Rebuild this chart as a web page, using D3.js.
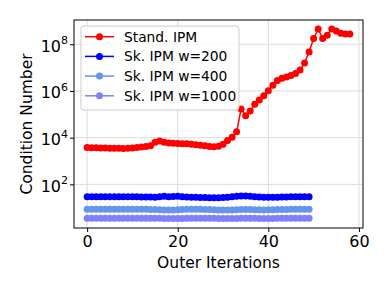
<!DOCTYPE html>
<html>
<head>
<meta charset="utf-8">
<script src="https://cdn.jsdelivr.net/npm/d3@7"></script>
<style>
  body { margin: 0; background: #fff; }
  text { font-family: "DejaVu Sans", sans-serif; fill: #000; }
</style>
</head>
<body>
<div id="chart"></div>
<script>
// log10 of the condition number
const standLog = [
  3.58, 3.57, 3.57, 3.56, 3.56, 3.55, 3.55, 3.55, 3.54, 3.55,
  3.56, 3.58, 3.60, 3.62, 3.65, 3.80, 3.86, 3.80, 3.77, 3.76,
  3.75, 3.74, 3.74, 3.72, 3.70, 3.68, 3.65, 3.62, 3.61, 3.63,
  3.72, 3.88, 4.02, 4.25, 5.23, 4.94, 5.14, 5.43, 5.61, 5.79,
  6.01, 6.25, 6.45, 6.54, 6.60, 6.66, 6.75, 6.90, 7.20, 7.67,
  8.25, 8.65, 8.25, 8.39, 8.65, 8.57, 8.47, 8.44, 8.44
];
const w200Log = [
  1.47, 1.47, 1.47, 1.47, 1.47, 1.47, 1.47, 1.47, 1.47, 1.47,
  1.47, 1.47, 1.46, 1.46, 1.46, 1.45, 1.47, 1.49, 1.47, 1.48,
  1.49, 1.47, 1.46, 1.45, 1.45, 1.44, 1.44, 1.43, 1.43, 1.43,
  1.44, 1.45, 1.47, 1.49, 1.50, 1.50, 1.49, 1.47, 1.46, 1.45,
  1.45, 1.45, 1.45, 1.46, 1.46, 1.47, 1.47, 1.47, 1.47, 1.47
];
const w400Log = [
  0.93, 0.93, 0.93, 0.93, 0.93, 0.93, 0.93, 0.93, 0.93, 0.93,
  0.93, 0.93, 0.93, 0.93, 0.92, 0.92, 0.91, 0.90, 0.90, 0.90,
  0.91, 0.92, 0.93, 0.93, 0.93, 0.93, 0.92, 0.92, 0.91, 0.90,
  0.90, 0.90, 0.90, 0.91, 0.92, 0.92, 0.92, 0.91, 0.91, 0.90,
  0.91, 0.91, 0.92, 0.92, 0.92, 0.93, 0.93, 0.93, 0.93, 0.93
];
const w1000Log = [
  0.55, 0.55, 0.55, 0.55, 0.55, 0.55, 0.55, 0.55, 0.55, 0.55,
  0.55, 0.55, 0.55, 0.55, 0.55, 0.55, 0.55, 0.54, 0.54, 0.54,
  0.54, 0.54, 0.55, 0.55, 0.55, 0.55, 0.55, 0.55, 0.55, 0.54,
  0.54, 0.54, 0.54, 0.54, 0.55, 0.55, 0.55, 0.55, 0.54, 0.54,
  0.54, 0.54, 0.55, 0.55, 0.55, 0.55, 0.55, 0.55, 0.55, 0.55
];

const seriesNames = ['Stand. IPM', 'Sk. IPM w=200', 'Sk. IPM w=400', 'Sk. IPM w=1000'];
const seriesColors = ['#ff0000', '#0000ff', '#6495ed', '#8080ff'];
const xTicks = [0, 20, 40, 60];
const yTickExps = [2, 4, 6, 8];

const series = [standLog, w200Log, w400Log, w1000Log].map((vals, k) => ({
  name: seriesNames[k],
  color: seriesColors[k],
  points: vals.map((v, i) => ({ x: i, y: Math.pow(10, v) }))
}));

const width = 388, height = 290;
const margin = { top: 20, right: 25, bottom: 62, left: 74 };
const markerR = 3.5;

const svg = d3.select('#chart').append('svg')
  .attr('width', width)
  .attr('height', height);

const x = d3.scaleLinear()
  .domain([-2.9, 60.9])
  .range([margin.left, width - margin.right]);

const y = d3.scaleLog()
  .domain([Math.pow(10, 0.13), Math.pow(10, 9.04)])
  .range([height - margin.bottom, margin.top]);

// grid
const grid = svg.append('g').attr('class', 'grid');
grid.selectAll('.gx').data(xTicks).enter().append('line')
  .attr('x1', d => x(d)).attr('x2', d => x(d))
  .attr('y1', margin.top).attr('y2', height - margin.bottom)
  .attr('stroke', '#dcdcdc').attr('stroke-width', 1);
grid.selectAll('.gy').data(yTickExps).enter().append('line')
  .attr('x1', margin.left).attr('x2', width - margin.right)
  .attr('y1', d => y(Math.pow(10, d))).attr('y2', d => y(Math.pow(10, d)))
  .attr('stroke', '#dcdcdc').attr('stroke-width', 1);

// axes
const xAxis = d3.axisBottom(x).tickValues(xTicks).tickSize(4).tickPadding(4);
const gx = svg.append('g')
  .attr('transform', `translate(0,${height - margin.bottom})`)
  .call(xAxis);
gx.select('.domain').remove();
gx.selectAll('text').style('font-size', '16px').style('font-family', 'DejaVu Sans');

const yAxis = d3.axisLeft(y)
  .tickValues(yTickExps.map(e => Math.pow(10, e)))
  .tickSize(4)
  .tickFormat('');
const gy = svg.append('g')
  .attr('transform', `translate(${margin.left},0)`)
  .call(yAxis);
gy.select('.domain').remove();

// y tick labels as 10^n
const yLabels = svg.append('g');
yTickExps.forEach(e => {
  const t = yLabels.append('text')
    .attr('x', 68)
    .attr('y', y(Math.pow(10, e)) + 7.5)
    .attr('text-anchor', 'end')
    .style('font-size', '16px');
  t.append('tspan').text('10');
  t.append('tspan')
    .attr('dy', -7.5)
    .style('font-size', '11px')
    .text(e);
});

// frame
svg.append('rect')
  .attr('x', margin.left).attr('y', margin.top)
  .attr('width', width - margin.left - margin.right)
  .attr('height', height - margin.top - margin.bottom)
  .attr('fill', 'none').attr('stroke', '#000').attr('stroke-width', 1);

// series
const line = d3.line().x(d => x(d.x)).y(d => y(d.y));
const lines = svg.append('g');
series.forEach(s => {
  const g = lines.append('g');
  g.append('path')
    .attr('d', line(s.points))
    .attr('fill', 'none')
    .attr('stroke', s.color)
    .attr('stroke-width', 1.5);
  g.selectAll('circle').data(s.points).enter().append('circle')
    .attr('cx', d => x(d.x))
    .attr('cy', d => y(d.y))
    .attr('r', markerR)
    .attr('fill', s.color);
});

// axis titles
svg.append('text')
  .attr('x', x(29))
  .attr('y', 268)
  .attr('text-anchor', 'middle')
  .style('font-size', '15.5px')
  .text('Outer Iterations');

svg.append('text')
  .attr('transform', `translate(32,${(margin.top + height - margin.bottom) / 2}) rotate(-90)`)
  .attr('text-anchor', 'middle')
  .style('font-size', '15.5px')
  .text('Condition Number');

// legend
const legend = svg.append('g');
legend.append('rect')
  .attr('x', 81).attr('y', 26)
  .attr('width', 158).attr('height', 84)
  .attr('rx', 3)
  .attr('fill', '#fff').attr('fill-opacity', 0.8)
  .attr('stroke', '#cccccc');
series.forEach((s, k) => {
  const ly = 36.7 + k * 19.7;
  legend.append('line')
    .attr('x1', 85).attr('x2', 114)
    .attr('y1', ly).attr('y2', ly)
    .attr('stroke', s.color).attr('stroke-width', 1.5);
  legend.append('circle')
    .attr('cx', 99.5).attr('cy', ly).attr('r', markerR)
    .attr('fill', s.color);
  legend.append('text')
    .attr('x', 124).attr('y', ly + 5)
    .style('font-size', '13.8px')
    .text(s.name);
});
</script>
</body>
</html>
